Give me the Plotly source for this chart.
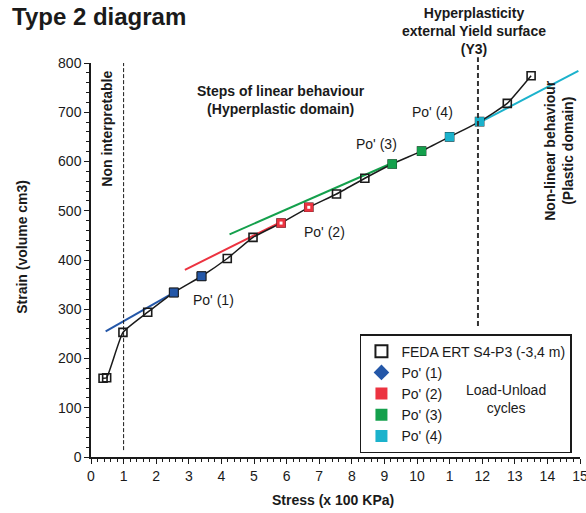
import plotly.graph_objects as go

# ---- data ----
stress = [0.37, 0.48, 0.98, 1.74, 2.54, 3.39, 4.18, 4.97, 5.83, 6.68, 7.53, 8.40, 9.24, 10.14, 11.0, 11.92, 12.77, 13.50]
strain = [160, 161, 253, 294, 334, 367, 403, 446, 475, 507, 534, 566, 595, 621, 650, 681, 718, 774]

po1_x = [2.54, 3.39]
po1_y = [334, 367]
po2_x = [5.83, 6.68]
po2_y = [475, 507]
po3_x = [9.24, 10.14]
po3_y = [595, 621]
po4_x = [11.0, 11.92]
po4_y = [650, 681]

fit1_x = [0.45, 2.54]
fit1_y = [255, 334]
fit2_x = [2.88, 5.85]
fit2_y = [380, 478]
fit3_x = [4.25, 9.24]
fit3_y = [452, 597]
fit4_x = [11.85, 14.95]
fit4_y = [677, 784]

limit_x = [1, 1]
limit_y = [14, 800]
yield_x = 11.87

x_tickvals = list(range(0, 16))
x_ticktext = ["0", "1", "2", "3", "4", "5", "6", "7", "8", "9", "10", "1", "12", "13", "14", "15"]

BLUE = "#2457a8"
RED = "#ec3340"
GREEN = "#14a04c"
CYAN = "#1bb2cc"
INK = "#1a1a1a"
FONT = "Liberation Sans, Arial, sans-serif"

W, H = 586, 513
L, R, T, B = 90.5, 5.5, 62.7, 56
PW = W - L - R
PH = H - T - B


def px(x):
    return (x - L) / PW


def py(y):
    return (H - B - y) / PH


fig = go.Figure()

# fitted linear steps
for fx, fy, c in [(fit1_x, fit1_y, BLUE), (fit2_x, fit2_y, RED), (fit3_x, fit3_y, GREEN), (fit4_x, fit4_y, CYAN)]:
    fig.add_trace(go.Scatter(x=fx, y=fy, mode="lines", line=dict(color=c, width=2), showlegend=False, hoverinfo="skip"))

# non interpretable limit
fig.add_trace(go.Scatter(x=limit_x, y=limit_y, mode="lines", line=dict(color=INK, width=1, dash="4px,2px"),
                         showlegend=False, hoverinfo="skip"))

# main curve
fig.add_trace(go.Scatter(x=stress, y=strain, mode="lines", line=dict(color=INK, width=1.5, shape="spline", smoothing=0.4),
                         showlegend=False))
fig.add_trace(go.Scatter(x=stress, y=strain, mode="markers", name="FEDA ERT S4-P3 (-3,4 m)",
                         marker=dict(symbol="square-open", size=8, color=INK, line=dict(width=1.6, color=INK))))

# cycles (plotted marks)
fig.add_trace(go.Scatter(x=po1_x, y=po1_y, mode="markers", name="Po' (1)", showlegend=False,
                         marker=dict(symbol="square", size=9, color=BLUE, line=dict(color=INK, width=1))))
# legend entry for Po' (1) shown as a diamond
fig.add_trace(go.Scatter(x=[None], y=[None], mode="markers", name="Po' (1)",
                         marker=dict(symbol="diamond", size=8, color=BLUE)))
fig.add_trace(go.Scatter(x=po2_x, y=po2_y, mode="markers", name="Po' (2)",
                         marker=dict(symbol="square", size=9, color=RED)))
fig.add_trace(go.Scatter(x=po2_x, y=po2_y, mode="markers", showlegend=False, hoverinfo="skip",
                         marker=dict(symbol="square", size=3, color="white")))
for xs, ys, c, n in [(po3_x, po3_y, GREEN, "Po' (3)"), (po4_x, po4_y, CYAN, "Po' (4)")]:
    fig.add_trace(go.Scatter(x=xs, y=ys, mode="markers", name=n,
                             marker=dict(symbol="square", size=9, color=c)))

# Y3 dashed line (extends slightly above the frame)
fig.add_shape(type="line", xref="paper", yref="paper",
              x0=yield_x / 15, x1=yield_x / 15, y0=py(326), y1=py(57),
              line=dict(color="#333333", width=2, dash="5px,3px"))

ann = []


def add(text, x, y, size=14, bold=True, angle=0, align="center"):
    t = f"<b>{text}</b>" if bold else text
    ann.append(dict(text=t, x=px(x), y=py(y), xref="paper", yref="paper", showarrow=False,
                    textangle=angle, align=align, xanchor="center", yanchor="middle",
                    font=dict(family=FONT, size=size, color=INK)))


add("Type 2 diagram", 99, 16, size=24)
add("Non interpretable", 107, 128, size=14, angle=-90)
add("Steps of linear behaviour<br>(Hyperplastic domain)", 281, 100, size=14)
add("Hyperplasticity<br>external Yield surface<br>(Y3)", 474, 31, size=14)
add("Non-linear behaviour<br>(Plastic domain)", 560, 150, size=14, angle=-90)
add("Po' (1)", 213, 300, bold=False)
add("Po' (2)", 324, 232, bold=False)
add("Po' (3)", 377, 144, bold=False)
add("Po' (4)", 433, 112, bold=False)
add("Load-Unload<br>cycles", 506, 399, bold=False)
add("Stress (x 100 KPa)", 333, 500, size=14)
add("Strain (volume cm3)", 22, 247, size=14, angle=-90)

fig.update_layout(
    width=W, height=H,
    margin=dict(l=L, r=R, t=T, b=B, pad=0, autoexpand=False),
    paper_bgcolor="white", plot_bgcolor="white",
    font=dict(family=FONT, size=14, color=INK),
    annotations=ann,
    legend=dict(x=px(360), y=py(334), xanchor="left", yanchor="top",
                bordercolor=INK, borderwidth=1.5, bgcolor="white",
                font=dict(family=FONT, size=14, color=INK),
                itemsizing="constant", tracegroupgap=0),
    xaxis=dict(range=[0, 15], showgrid=False, zeroline=False, showline=True, linecolor=INK, linewidth=1.5,
               ticks="outside", ticklen=5, tickwidth=1.2, tickcolor=INK, automargin=False,
               tickvals=x_tickvals, ticktext=x_ticktext, ticklabeloverflow="allow",
               minor=dict(dtick=0.2, ticks="outside", ticklen=3, tickcolor=INK, tickwidth=1)),
    yaxis=dict(range=[0, 800], showgrid=False, zeroline=False, showline=True, linecolor=INK, linewidth=1.5,
               ticks="outside", ticklen=5, tickwidth=1.2, tickcolor=INK, dtick=100, automargin=False,
               minor=dict(dtick=20, ticks="outside", ticklen=3, tickcolor=INK, tickwidth=1)),
)

fig.write_html("out.html", config={"displayModeBar": False},
               post_script="document.body.style.margin='0';document.body.style.overflow='hidden';")
